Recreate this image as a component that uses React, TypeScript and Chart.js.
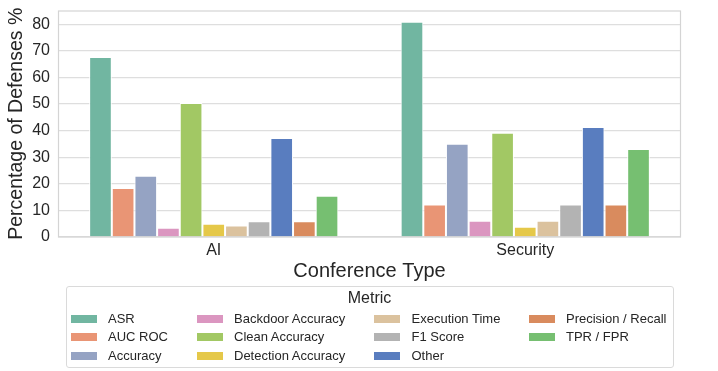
import React, { useEffect, useRef } from "react";
import { Chart, registerables } from "chart.js";

Chart.register(...registerables);

const categories = ["AI", "Security"];
const metrics = [
  "ASR",
  "AUC ROC",
  "Accuracy",
  "Backdoor Accuracy",
  "Clean Accuracy",
  "Detection Accuracy",
  "Execution Time",
  "F1 Score",
  "Other",
  "Precision / Recall",
  "TPR / FPR",
];
const aiValues = [67.7, 18.4, 23.0, 3.5, 50.4, 5.0, 4.3, 5.9, 37.2, 5.9, 15.5];
const securityValues = [81.0, 12.2, 35.1, 6.1, 39.2, 3.9, 6.1, 12.2, 41.4, 12.2, 33.1];
const colors = [
  "#71b6a1",
  "#e99575",
  "#95a3c3",
  "#db96c0",
  "#a2c864",
  "#e5c849",
  "#dbc29e",
  "#b3b3b3",
  "#597dbf",
  "#d98b5e",
  "#76bf71",
];
const yTicks = [0, 10, 20, 30, 40, 50, 60, 70, 80];
const yMax = 85.2;

const FONT = "'Liberation Sans', Arial, Helvetica, sans-serif";
const TEXT = "#262626";

const framePlugin = {
  id: "frame",
  afterDatasetsDraw(chart: any) {
    const { ctx, chartArea } = chart;
    const { left, top, right, bottom } = chartArea;
    ctx.save();
    ctx.strokeStyle = "#d4d4d4";
    ctx.lineWidth = 1.2;
    ctx.strokeRect(left + 0.5, top + 0.5, right - left - 1, bottom - top - 0.5);
    ctx.restore();
  },
};

// legend layout (positions only)
const colSwatchLeft = [71, 197, 374, 529];
const colTextLeft = [108, 234, 411.5, 566];
const rowCenter = [318.7, 337.3, 356.3];

export default function App() {
  const ref = useRef<HTMLCanvasElement | null>(null);

  useEffect(() => {
    if (!ref.current) return;
    const chart = new Chart(ref.current, {
      type: "bar",
      data: {
        labels: categories,
        datasets: metrics.map((m, i) => ({
          label: m,
          data: [aiValues[i], securityValues[i]],
          backgroundColor: colors[i],
          borderColor: "#ffffff",
          borderWidth: 1,
          categoryPercentage: 0.8,
          barPercentage: 1.0,
        })),
      },
      plugins: [framePlugin],
      options: {
        responsive: false,
        animation: false,
        devicePixelRatio: 1,
        layout: { padding: { top: 10.5, right: 37, left: 0, bottom: 88 } },
        plugins: {
          legend: { display: false },
          tooltip: { enabled: false },
        },
        scales: {
          x: {
            grid: { display: false, drawTicks: false },
            border: { display: false },
            ticks: { color: TEXT, font: { family: FONT, size: 16 }, padding: 4 },
            title: {
              display: true,
              text: "Conference Type",
              color: TEXT,
              font: { family: FONT, size: 20 },
              padding: { top: 0, bottom: 0 },
            },
            afterFit: (scale: any) => {
              scale.height = 46;
              scale.paddingLeft = 0;
              scale.paddingRight = 0;
            },
          },
          y: {
            min: 0,
            max: yMax,
            grid: { color: "#dedede", lineWidth: 1.2, drawTicks: false },
            border: { display: false },
            ticks: { color: TEXT, font: { family: FONT, size: 16 }, padding: 8 },
            afterBuildTicks: (scale: any) => {
              scale.ticks = yTicks.map((v) => ({ value: v }));
            },
            title: {
              display: true,
              text: "Percentage of Defenses %",
              color: TEXT,
              font: { family: FONT, size: 19.5 },
              padding: { top: 5, bottom: 0 },
            },
            afterFit: (scale: any) => {
              scale.width = 58;
              scale.paddingTop = 0;
              scale.paddingBottom = 0;
            },
          },
        },
      },
    } as any);
    return () => chart.destroy();
  }, []);

  return (
    <div style={{ position: "fixed", left: 0, top: 0, width: 718, height: 371, background: "#fff" }}>
      <canvas ref={ref} width={718} height={371} style={{ width: 718, height: 371, display: "block" }} />
      <div
        style={{
          position: "absolute",
          left: 65.5,
          top: 285.5,
          width: 608,
          height: 82,
          border: "1px solid #dadada",
          borderRadius: 3,
          boxSizing: "border-box",
        }}
      />
      <div
        style={{
          position: "absolute",
          left: 65.5,
          width: 608,
          top: 288,
          height: 20,
          lineHeight: "20px",
          textAlign: "center",
          fontFamily: FONT,
          fontSize: 16,
          color: TEXT,
        }}
      >
        Metric
      </div>
      {metrics.map((m, i) => {
        const col = Math.floor(i / 3);
        const row = i % 3;
        const cy = rowCenter[row];
        return (
          <React.Fragment key={m}>
            <div
              style={{
                position: "absolute",
                left: colSwatchLeft[col],
                top: cy - 4,
                width: 26,
                height: 8,
                background: colors[i],
              }}
            />
            <div
              style={{
                position: "absolute",
                left: colTextLeft[col],
                top: cy - 9,
                height: 18,
                lineHeight: "18px",
                fontFamily: FONT,
                fontSize: 13,
                color: TEXT,
                whiteSpace: "nowrap",
              }}
            >
              {m}
            </div>
          </React.Fragment>
        );
      })}
    </div>
  );
}
